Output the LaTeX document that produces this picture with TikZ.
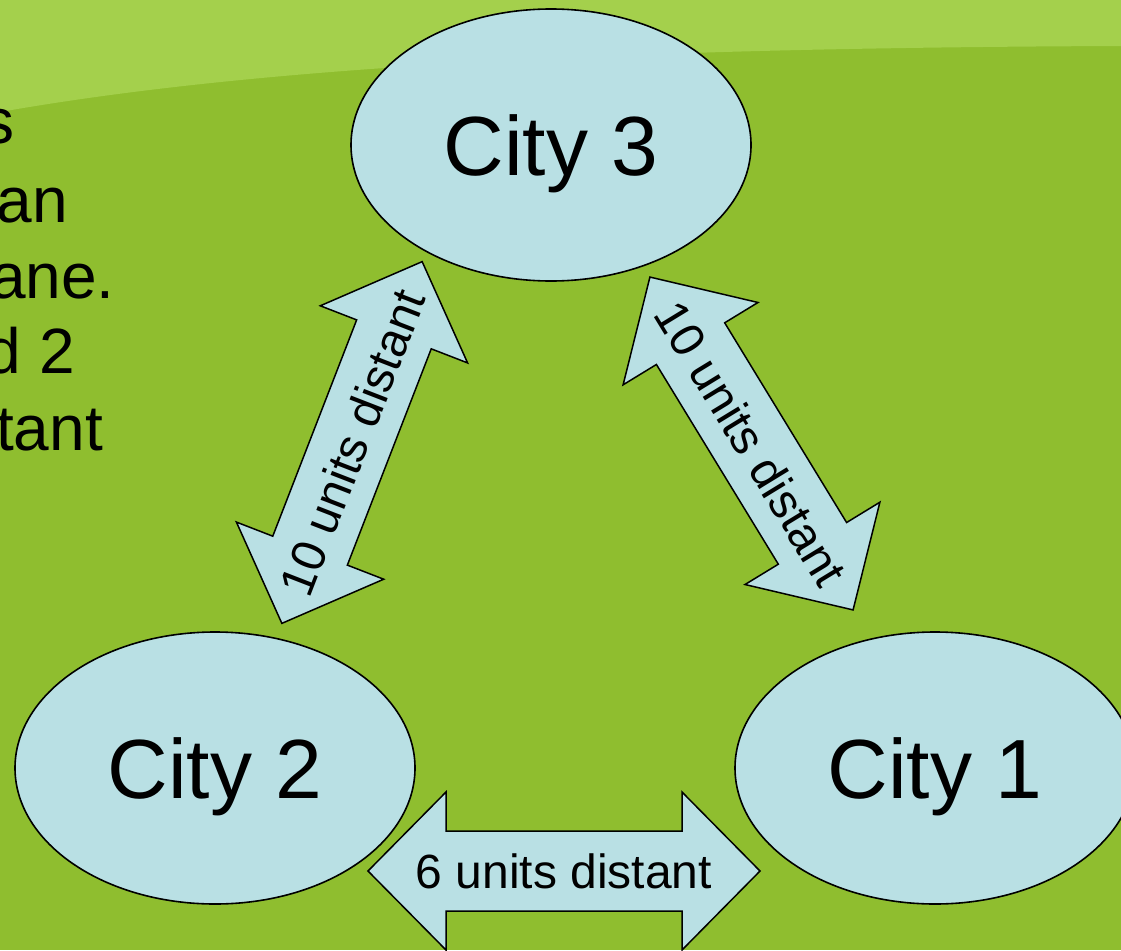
\documentclass[tikz,border=0pt]{standalone}
\usepackage{fontspec}
\setmainfont{Liberation Sans}
\usetikzlibrary{shapes.geometric}

\definecolor{bgdark}{RGB}{143,190,47}
\definecolor{bglight}{RGB}{164,208,76}
\definecolor{cityfill}{RGB}{185,224,228}

% block double arrow: name, centre, angle, half length, label
\newcommand{\distarrow}[5]{%
  \begin{scope}[shift={(#2)}, rotate=#3]
    \draw[arrowbody] (-#4,0) -- (-#4+78,79) -- (-#4+78,40) -- (#4-78,40)
      -- (#4-78,79) -- (#4,0) -- (#4-78,-79) -- (#4-78,-40)
      -- (-#4+78,-40) -- (-#4+78,-79) -- cycle;
    \node[distlabel, rotate=#3] (#1) at (0,0) {#5};
  \end{scope}}

\begin{document}
\begin{tikzpicture}[x=1pt, y=1pt,
  city/.style={ellipse, draw=black, line width=1.6pt, fill=cityfill,
    minimum width=400pt, minimum height=272pt, inner sep=0pt,
    font=\fontsize{84}{100}\selectfont, text depth=0pt},
  arrowbody/.style={draw=black, line width=1.5pt, fill=cityfill, line join=miter},
  distlabel/.style={inner sep=0pt, font=\fontsize{48}{56}\selectfont, text depth=0pt},
  note/.style={inner sep=0pt, anchor=base east, font=\fontsize{64}{77}\selectfont}]

  \useasboundingbox (0,0) rectangle (1121,-950);
  \clip (0,0) rectangle (1121,-950);

  % background
  \fill[bgdark] (0,0) rectangle (1121,-950);
  \fill[bglight] (0,0) -- (0,-112) .. controls (250,-68) and (600,-48) .. (1121,-46)
    -- (1121,0) -- cycle;

  % text at the left edge
  \node[note] (n1) at (15,-143) {s};
  \node[note] (n2) at (68,-222) {an};
  \node[note] (n3) at (115,-298) {ane.};
  \node[note] (n4) at (75,-373) {d 2};
  \node[note] (n5) at (103,-450) {tant};

  % cities
  \node[city] (c3) at (551,-145) {City 3};
  \node[city] (c2) at (215,-768) {City 2};
  \node[city] (c1) at (935,-768) {City 1};

  % distances
  \distarrow{d23}{352,-442.5}{68.8}{194}{10 units distant}
  \distarrow{d13}{751.5,-443.5}{-58.6}{195}{10 units distant}
  \distarrow{d12}{564,-871}{0}{196}{6 units distant}
\end{tikzpicture}
\end{document}
